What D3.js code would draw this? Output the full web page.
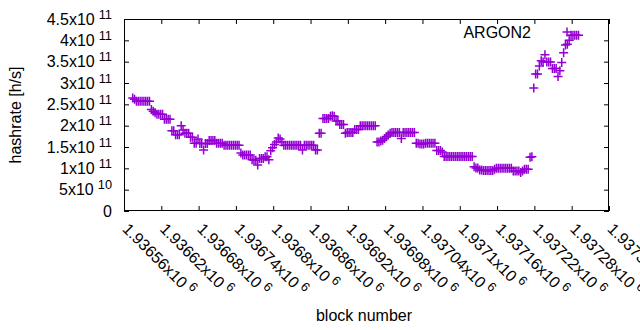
<!DOCTYPE html>
<html><head><meta charset="utf-8">
<script src="https://cdn.jsdelivr.net/npm/d3@7/dist/d3.min.js"></script>
<style>
body{margin:0;background:#fff}
svg{display:block}
text{font-family:"Liberation Sans",Arial,sans-serif;fill:#000}
</style>
</head><body>
<svg id="c" width="640" height="330"></svg>
<script>
// ---- data ----
const seriesName = "ARGON2";
const blockStart = 1936574;
const blockStep = 3;
// hashrate in units of 1e11 h/s, one value per sampled block
const hashrateE11 = [
 2.65,2.62,2.57,2.57,2.57,2.57,2.57,2.57,2.57,2.57,
 2.38,2.34,2.30,2.27,2.27,2.27,2.27,2.15,2.15,2.15,
 2.15,1.88,1.88,1.79,1.79,1.79,2.00,1.90,1.82,1.82,
 1.82,1.73,1.73,1.59,1.59,1.69,1.58,1.58,1.43,1.58,
 1.58,1.65,1.65,1.65,1.65,1.59,1.59,1.59,1.59,1.54,
 1.54,1.54,1.54,1.54,1.54,1.54,1.54,1.54,1.36,1.31,
 1.31,1.31,1.31,1.31,1.20,1.19,1.19,1.08,1.23,1.23,
 1.23,1.27,1.27,1.20,1.41,1.48,1.56,1.62,1.71,1.69,
 1.62,1.54,1.54,1.54,1.54,1.54,1.54,1.54,1.54,1.54,
 1.54,1.43,1.54,1.54,1.54,1.54,1.54,1.54,1.43,1.43,
 1.82,1.82,2.17,2.17,2.17,2.17,2.22,2.23,2.22,2.11,
 2.11,2.03,2.03,2.03,1.82,1.84,1.84,1.84,1.84,1.91,
 1.91,1.91,2.00,2.00,2.00,2.00,2.00,2.00,2.00,2.00,
 2.00,1.62,1.62,1.64,1.66,1.70,1.74,1.78,1.82,1.84,
 1.84,1.84,1.84,1.84,1.70,1.84,1.84,1.84,1.84,1.84,
 1.84,1.84,1.59,1.59,1.57,1.57,1.57,1.59,1.59,1.59,
 1.59,1.59,1.59,1.42,1.42,1.42,1.38,1.28,1.28,1.28,
 1.28,1.28,1.28,1.28,1.28,1.28,1.28,1.28,1.28,1.28,
 1.28,1.28,1.28,1.04,1.01,1.01,0.96,0.96,0.95,0.95,
 0.95,0.95,0.95,0.95,0.98,1.00,1.00,1.00,1.00,1.00,
 1.00,1.00,1.00,1.00,0.94,0.94,0.94,0.94,0.90,0.94,
 0.98,0.98,0.98,1.26,1.27,2.88,3.21,3.21,3.40,3.52,
 3.49,3.66,3.49,3.49,3.49,3.34,3.34,3.34,3.15,3.29,
 3.48,3.71,3.89,3.91,4.00,4.12,4.12,4.12,4.12,4.12
];
const blocks = hashrateE11.map((_, i) => blockStart + i * blockStep);

const xTickValues = [1936560,1936620,1936680,1936740,1936800,1936860,1936920,1936980,1937040,1937100,1937160,1937220,1937280,1937340];
const xTickMantissa = ["1.93656x10","1.93662x10","1.93668x10","1.93674x10","1.9368x10","1.93686x10","1.93692x10","1.93698x10","1.93704x10","1.9371x10","1.93716x10","1.93722x10","1.93728x10","1.93734x10"];
const xTickExponent = ["6","6","6","6","6","6","6","6","6","6","6","6","6","6"];

const yTickValues = [0,5e10,1e11,1.5e11,2e11,2.5e11,3e11,3.5e11,4e11,4.5e11];
const yTickMantissa = ["0","5x10","1x10","1.5x10","2x10","2.5x10","3x10","3.5x10","4x10","4.5x10"];
const yTickExponent = ["","10","11","11","11","11","11","11","11","11"];

const xTitle = "block number";
const yTitle = "hashrate [h/s]";

// ---- layout ----
const L = 124, R = 609, T = 19, B = 211;
const color = "#9400d3";
const svg = d3.select("#c");

const x = d3.scaleLinear().domain([1936560, 1937340]).range([L, R]);
const y = d3.scaleLinear().domain([0, 4.5e11]).range([B, T]);

const tick = 5;
svg.append("g").attr("transform",`translate(0,${B})`)
  .call(d3.axisBottom(x).tickValues(xTickValues).tickSize(-tick).tickSizeOuter(0).tickFormat(""));
svg.append("g").attr("transform",`translate(0,${T})`)
  .call(d3.axisTop(x).tickValues(xTickValues).tickSize(-tick).tickSizeOuter(0).tickFormat(""));
svg.append("g").attr("transform",`translate(${L},0)`)
  .call(d3.axisLeft(y).tickValues(yTickValues).tickSize(-tick).tickSizeOuter(0).tickFormat(""));
svg.append("g").attr("transform",`translate(${R},0)`)
  .call(d3.axisRight(y).tickValues(yTickValues).tickSize(-tick).tickSizeOuter(0).tickFormat(""));
svg.selectAll(".domain").remove();
svg.selectAll(".tick line").attr("stroke","#000").attr("stroke-width",1);

svg.append("rect").attr("x",L+0.5).attr("y",T+0.5).attr("width",R-L-1).attr("height",B-T-1)
  .attr("fill","none").attr("stroke","#000").attr("stroke-width",1);

// y tick labels
const yl = svg.append("g");
yTickValues.forEach((v,i)=>{
  const t = yl.append("text").attr("x",112).attr("y",y(v)+5.5)
    .attr("text-anchor","end").attr("font-size",16);
  t.append("tspan").text(yTickMantissa[i]);
  if (yTickExponent[i]) t.append("tspan").attr("dx",4).attr("dy",-6).attr("font-size",12.8).text(yTickExponent[i]);
});

// x tick labels (rotated)
const xl = svg.append("g");
xTickValues.forEach((v,i)=>{
  const g = xl.append("g").attr("transform",`translate(${x(v)+1.5},${226}) rotate(45)`);
  const t = g.append("text").attr("x",0).attr("y",5.5).attr("font-size",16);
  t.append("tspan").text(xTickMantissa[i]);
  t.append("tspan").attr("dx",4).attr("dy",-6).attr("font-size",12.8).text(xTickExponent[i]);
});

// axis titles
svg.append("text").attr("x",364).attr("y",321).attr("text-anchor","middle").attr("font-size",16).text(xTitle);
svg.append("text").attr("transform","translate(21,115) rotate(-90)").attr("text-anchor","middle").attr("font-size",16).text(yTitle);

// points
const plus = "M-4.5,0H4.5M0,-4.5V4.5";
svg.append("g").selectAll("path").data(blocks).join("path")
  .attr("d", plus)
  .attr("transform",(b,i)=>`translate(${x(b)},${y(hashrateE11[i]*1e11)})`)
  .attr("fill","none").attr("stroke",color).attr("stroke-width",1.5);

// key
svg.append("text").attr("x",531).attr("y",37.5).attr("text-anchor","end").attr("font-size",16).text(seriesName);
svg.append("path").attr("d",plus).attr("transform","translate(567,32)")
  .attr("fill","none").attr("stroke",color).attr("stroke-width",1.5);
</script>
</body></html>
